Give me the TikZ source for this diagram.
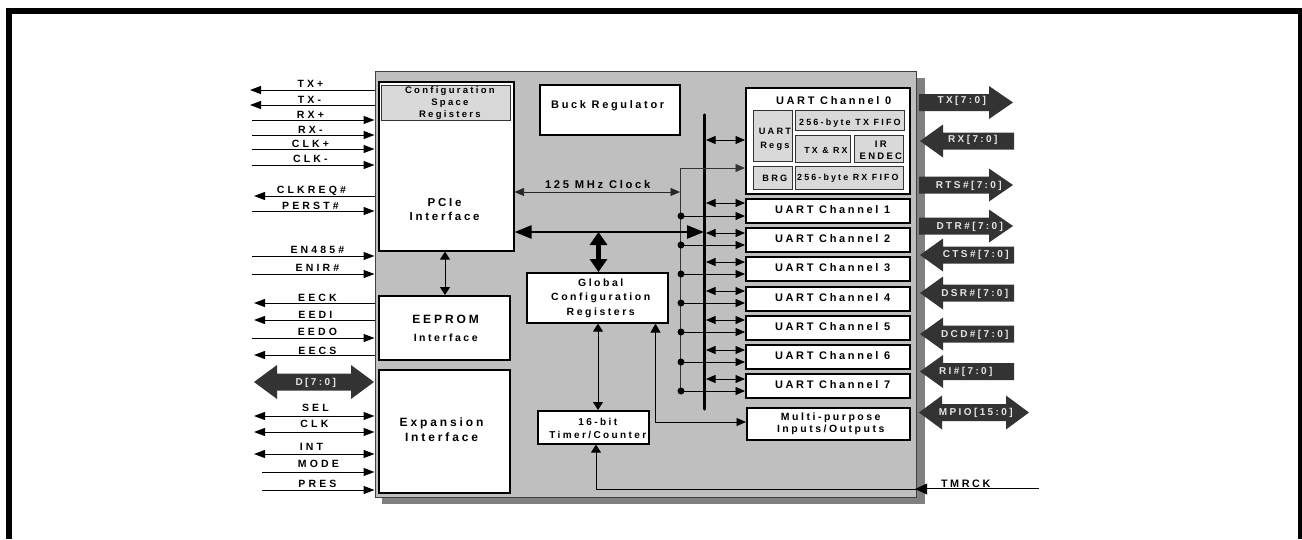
\documentclass[tikz,border=0pt]{standalone}
\usepackage{fontspec}
\setmainfont{Liberation Sans}
\usetikzlibrary{arrows.meta}
\newcommand{\lbl}[2][24]{\textbf{\addfontfeature{LetterSpace=#1}#2}}
\newcommand{\fs}[2]{\fontsize{#1}{#2}\selectfont}
\tikzset{
 x=1pt,y=-1pt,
 box/.style={draw=black,fill=white,line width=1.6pt,inner sep=0pt,anchor=north west},
 sub/.style={draw=black!80,fill=black!15,line width=0.8pt,inner sep=0pt,anchor=north west},
 txt/.style={inner sep=0pt,align=center},
 tag/.style={inner sep=0pt,font=\fs{10.5}{12}},
 wtag/.style={inner sep=0pt,text=white!90!black,font=\fs{10}{12}},
 sig/.style={line width=1pt,-{Triangle[length=11pt,width=8pt]}},
 dsig/.style={line width=1pt,{Triangle[length=11pt,width=8pt]}-{Triangle[length=11pt,width=8pt]}},
 thinsig/.style={line width=.8pt,-{Triangle[length=9.5pt,width=8pt]}},
 dthin/.style={line width=.8pt,{Triangle[length=9.5pt,width=8pt]}-{Triangle[length=9.5pt,width=8pt]}},
 dvert/.style={line width=1pt,{Triangle[length=8pt,width=10pt]}-{Triangle[length=8pt,width=10pt]}},
 big/.style={line width=2.6pt,{Triangle[length=17pt,width=13pt]}-{Triangle[length=17pt,width=13pt]}},
 bigv/.style={line width=4.5pt,{Triangle[length=13pt,width=17pt]}-{Triangle[length=13pt,width=17pt]}},
 dot/.style={circle,fill=black,inner sep=0pt,minimum size=7pt},
 barrow/.style={fill=black!80,draw=none},
}
\newcommand{\rbus}[3]{%
 \fill[barrow] (#1,#3-8.5) -- (#2-24,#3-8.5) -- (#2-24,#3-16.5) -- (#2,#3) -- (#2-24,#3+16.5) -- (#2-24,#3+8.5) -- (#1,#3+8.5) -- cycle;
}
\newcommand{\lbus}[3]{%
 \fill[barrow] (#2,#3-8.5) -- (#1+23,#3-8.5) -- (#1+23,#3-16.5) -- (#1,#3) -- (#1+23,#3+16.5) -- (#1+23,#3+8.5) -- (#2,#3+8.5) -- cycle;
}
\newcommand{\dbus}[3]{%
 \fill[barrow] (#1,#3) -- (#1+23,#3-17) -- (#1+23,#3-8.5) -- (#2-23,#3-8.5) -- (#2-23,#3-17) -- (#2,#3) -- (#2-23,#3+17) -- (#2-23,#3+8.5) -- (#1+23,#3+8.5) -- (#1+23,#3+17) -- cycle;
}
\newcommand{\ins}[5][252]{\coordinate (a) at (#1,#2);\draw[sig] (a) -- (chip.west |- a);\node[tag] at (#4,#5) {\lbl[30]{#3}};}
\newcommand{\outs}[5][254]{\coordinate (a) at (#1,#2);\draw[sig] (chip.west |- a) -- (a);\node[tag] at (#4,#5) {\lbl[30]{#3}};}
\newcommand{\boths}[4]{\coordinate (a) at (254,#1);\draw[dsig] (a) -- (chip.west |- a);\node[tag] at (#3,#4) {\lbl[30]{#2}};}
\begin{document}
\begin{tikzpicture}
\useasboundingbox (0,0) rectangle (1302,539);
% frame
\fill[black] (6,8) rectangle (1302,14);
\fill[black] (6,8) rectangle (12,539);
\fill[black] (1298,8) rectangle (1302,539);
% shadow + chip
\fill[black!50] (382,78) rectangle (925,504);
\node[draw=black!75,fill=black!25,line width=1pt,inner sep=0pt,anchor=north west,minimum width=541pt,minimum height=426pt] (chip) at (374.5,71) {};
% PCIe
\node[box,minimum width=135pt,minimum height=169pt] (pcie) at (378,81) {};
\node[sub,minimum width=129pt,minimum height=35pt] (cfg) at (381,85) {};
\node[txt,font=\fs{9.5}{11.6}] at (451,103) {\lbl{Configuration}\\\lbl{Space}\\\lbl{Registers}};
\node[txt,font=\fs{11.5}{14}] at (446,210) {\lbl{PCIe}\\\lbl{Interface}};
\node[box,minimum width=131pt,minimum height=64pt] (eeprom) at (378,295) {};
\node[txt,font=\fs{12}{14}] at (447,319) {\lbl{EEPROM}};
\node[txt,font=\fs{10.5}{12}] at (447,338) {\lbl{Interface}};
\node[box,minimum width=131pt,minimum height=123pt] (exp) at (378,369) {};
\node[txt,font=\fs{12}{15}] at (443,430) {\lbl{Expansion}\\\lbl{Interface}};
\node[box,minimum width=140pt,minimum height=50pt] (buck) at (539,84) {};
\node[txt,font=\fs{11}{14}] at (609,106) {\lbl{Buck Regulator}};
\node[box,minimum width=141pt,minimum height=50pt] (gcr) at (526,272) {};
\node[txt,font=\fs{10.5}{14.5}] at (602,298) {\lbl{Global}\\\lbl{Configuration}\\\lbl{Registers}};
\node[box,minimum width=111pt,minimum height=33pt] (tc) at (537,410) {};
\node[txt,font=\fs{10}{13}] at (599,428) {\lbl{16-bit}\\\lbl{Timer/Counter}};
% UART0
\node[box,minimum width=164pt,minimum height=106pt] (u0) at (745,87) {};
\node[txt,font=\fs{11}{12}] at (835,101) {\lbl{UART Channel 0}};
\node[sub,minimum width=39pt,minimum height=51pt] (ur) at (753,110) {};
\node[txt,font=\fs{9.2}{14}] at (776,139) {\lbl{UART}\\\lbl{Regs}};
\node[sub,minimum width=109pt,minimum height=20pt] (f1) at (795,110) {};
\node[txt,font=\fs{9}{10}] at (851,123) {\lbl{256-byte TX FIFO}};
\node[sub,minimum width=55pt,minimum height=27pt] (txrx) at (795,135) {};
\node[txt,font=\fs{8.8}{10}] at (827,150) {\lbl{TX \& RX}};
\node[sub,minimum width=49pt,minimum height=27pt] (ir) at (854,135) {};
\node[txt,font=\fs{9.5}{12}] at (882,150) {\lbl{IR}\\\lbl{ENDEC}};
\node[sub,minimum width=39pt,minimum height=23pt] (brg) at (753,166) {};
\node[txt,font=\fs{9.2}{10}] at (776,178) {\lbl{BRG}};
\node[sub,minimum width=108pt,minimum height=23pt] (f2) at (795,166) {};
\node[txt,font=\fs{8.9}{10}] at (849,178) {\lbl{256-byte RX FIFO}};
% UART 1-7
\foreach \i/\y in {1/198,2/227,3/256,4/286,5/315,6/344,7/373}{
 \node[box,minimum width=164pt,minimum height=24pt] (u\i) at (745,\y) {};
 \node[txt,font=\fs{11}{12}] at (834,\y+12) {\lbl{UART Channel \i}};
}
\node[box,minimum width=163pt,minimum height=32pt] (mp) at (746,407) {};
\node[txt,font=\fs{10.5}{12}] at (832,424) {\lbl{Multi-purpose}\\\lbl{Inputs/Outputs}};
% internal bus
\coordinate (bt) at (704.5,115); \coordinate (bb) at (704.5,409);
\draw[line width=3.4pt,line cap=round] (bt) -- (bb);
% clock tree
\coordinate (ck) at (680.5,168);
\coordinate (ckb) at (680.5,391);
\draw[line width=.8pt,black!80] (ck) -- (ckb);
\draw[thinsig,black!80] (ck) -- (u0.west |- ck);
\coordinate (ckl) at (680,192);
\draw[dthin,black!85] (pcie.east |- ckl) -- (ckl);
\foreach \i/\y in {1/216,2/245,3/274,4/303,5/332,6/362,7/391}{
 \node[dot] (d\i) at (681,\y) {};
 \draw[thinsig] (d\i.center) -- (u\i.west |- d\i.center);
}
\foreach \n/\y in {u0/140,u1/203,u2/233,u3/262,u4/291,u5/320,u6/350,u7/379}{
 \coordinate (t) at (706,\y);
 \draw[dthin] (t) -- (\n.west |- t);
}
% main bus
\coordinate (bm) at (704,232);
\draw[big] (pcie.east |- bm) -- (bm);
\coordinate (bj) at (598.5,232);
\draw[bigv] (bj) -- (gcr.north -| bj);
% others
\coordinate (pe) at (445,260);
\draw[dvert] (pcie.south -| pe) -- (eeprom.north -| pe);
\coordinate (gt) at (598,350);
\draw[dvert] (gcr.south -| gt) -- (tc.north -| gt);
\coordinate (gm) at (655.5,422);
\draw[line width=.8pt,{Triangle[length=9pt,width=10pt]}-{Triangle[length=9.5pt,width=8pt]}] (gcr.south -| gm) -- (gm) -- (mp.west |- gm);
\node[txt,font=\fs{11.2}{13}] at (599,184) {\lbl{125 MHz Clock}};
% TMRCK
\coordinate (tme) at (1039,488.5);
\coordinate (tmc) at (596,489);
\draw[line width=.9pt] (tme) -- (chip.east |- tme);
\draw[line width=.9pt,-{Triangle[length=8pt,width=10pt]}] (chip.east |- tmc) -- (tmc) -- (tc.south -| tmc);
\fill (915,489) -- (927,483.5) -- (927,494.5) -- cycle;
\node[txt,font=\fs{10.8}{12}] at (967,484) {\lbl{TMRCK}};
% Left signals
\outs[250]{90}{TX+}{312}{84}
\outs[250]{105}{TX-}{311}{100}
\ins{120}{RX+}{312}{115}
\ins{135}{RX-}{312}{130}
\ins{149}{CLK+}{312}{144}
\ins{165}{CLK-}{312}{159}
\outs{196}{CLKREQ\#}{313}{191}
\ins{211}{PERST\#}{312}{206}
\ins{256}{EN485\#}{319}{250}
\ins{274}{ENIR\#}{319}{268}
\outs{303}{EECK}{319}{298}
\outs{320}{EEDI}{317}{315}
\ins{338}{EEDO}{319}{332}
\outs{355}{EECS}{319}{351}
\boths{416}{SEL}{317}{408}
\boths{432}{CLK}{316}{424}
\boths{454}{INT}{313}{447}
\ins[262]{472}{MODE}{320}{464}
\ins[262]{490}{PRES}{319}{484}
\dbus{254}{374}{382}
\node[wtag] at (317,383) {\lbl{D[7:0]}};
% right buses
\rbus{919}{1013}{102.5}\node[wtag] at (963,101) {\lbl{TX[7:0]}};
\lbus{920}{1014}{141}\node[wtag] at (974,140) {\lbl{RX[7:0]}};
\rbus{919}{1013}{185}\node[wtag] at (970,186) {\lbl{RTS\#[7:0]}};
\rbus{919}{1013}{226}\node[wtag] at (971,227) {\lbl{DTR\#[7:0]}};
\lbus{920}{1014}{255}\node[wtag] at (977,255) {\lbl{CTS\#[7:0]}};
\lbus{920}{1014}{293}\node[wtag] at (976,294) {\lbl{DSR\#[7:0]}};
\lbus{920}{1014}{334}\node[wtag] at (976,335) {\lbl{DCD\#[7:0]}};
\lbus{920}{1014}{371.5}\node[wtag] at (967,372) {\lbl{RI\#[7:0]}};
\dbus{919}{1029}{412.5}\node[wtag] at (977,413) {\lbl{MPIO[15:0]}};
\end{tikzpicture}
\end{document}
